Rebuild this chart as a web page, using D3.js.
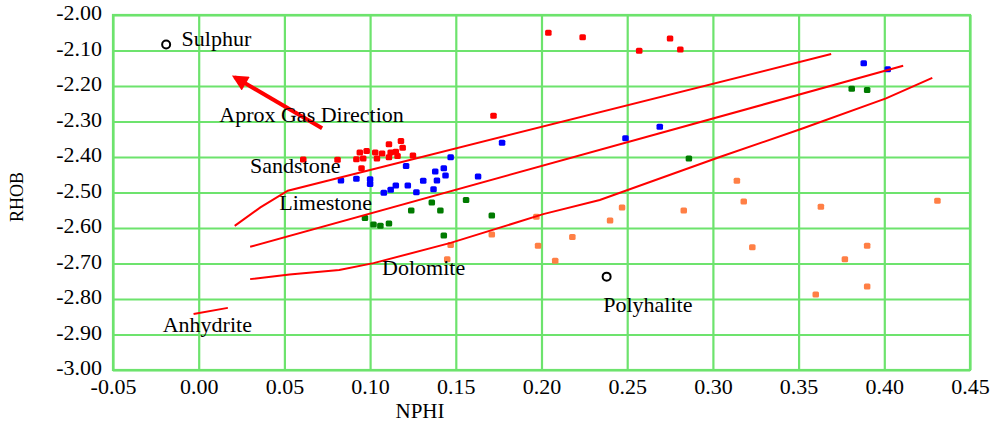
<!DOCTYPE html>
<html>
<head>
<meta charset="utf-8">
<script src="https://cdn.jsdelivr.net/npm/d3@7"></script>
<style>
    body { margin:0; background:#fff; }
    text { font-family:"Liberation Serif","Times New Roman",serif; fill:#000; }
</style>
</head>
<body>
<script>

// tick values for both axes
var xTicks = [-0.05,0.00,0.05,0.10,0.15,0.20,0.25,0.30,0.35,0.40,0.45];
var yTicks = [-2.00,-2.10,-2.20,-2.30,-2.40,-2.50,-2.60,-2.70,-2.80,-2.90,-3.00];

// NPHI, RHOB pairs
var sandstonePts = [
    [0.061,-2.407],[0.081,-2.408],[0.092,-2.406],[0.094,-2.387],[0.098,-2.383],
    [0.096,-2.404],[0.095,-2.432],[0.103,-2.387],[0.104,-2.404],[0.107,-2.390],
    [0.111,-2.364],[0.112,-2.387],[0.111,-2.401],[0.115,-2.385],[0.116,-2.397],
    [0.118,-2.355],[0.119,-2.374],[0.125,-2.396],[0.172,-2.284],[0.204,-2.050],
    [0.224,-2.063],[0.257,-2.101],[0.275,-2.066],[0.281,-2.097]
];
var limestonePts = [
    [0.083,-2.466],[0.092,-2.461],[0.100,-2.463],[0.100,-2.476],[0.121,-2.425],
    [0.108,-2.501],[0.112,-2.492],[0.115,-2.480],[0.122,-2.480],[0.127,-2.499],
    [0.131,-2.467],[0.138,-2.441],[0.139,-2.466],[0.137,-2.491],[0.143,-2.432],
    [0.144,-2.452],[0.147,-2.401],[0.163,-2.455],[0.177,-2.360],[0.249,-2.347],
    [0.269,-2.315],[0.388,-2.136],[0.402,-2.153]
];
var dolomitePts = [
    [0.097,-2.572],[0.102,-2.590],[0.106,-2.594],[0.111,-2.587],[0.124,-2.551],
    [0.136,-2.528],[0.141,-2.551],[0.156,-2.521],[0.171,-2.565],[0.143,-2.621],
    [0.286,-2.404],[0.381,-2.208],[0.390,-2.211]
];
var otherPts = [
    [0.147,-2.648],[0.145,-2.688],[0.171,-2.618],[0.197,-2.568],[0.198,-2.650],
    [0.208,-2.692],[0.218,-2.625],[0.240,-2.579],[0.247,-2.542],[0.283,-2.551],
    [0.314,-2.467],[0.318,-2.525],[0.323,-2.654],[0.363,-2.540],[0.360,-2.787],
    [0.377,-2.688],[0.390,-2.650],[0.390,-2.765],[0.431,-2.523]
];

// cut-off lines
var upperLine = [[0.021,-2.594],[0.036,-2.542],[0.052,-2.495],[0.369,-2.110]];
var middleLine = [[0.030,-2.653],[0.411,-2.143]];
var lowerLine = [[0.030,-2.744],[0.053,-2.731],[0.082,-2.718],[0.102,-2.699],
    [0.147,-2.642],[0.201,-2.561],[0.234,-2.521],[0.304,-2.400],[0.351,-2.322],
    [0.401,-2.235],[0.428,-2.177]];
var anhydriteLine = [[-0.003,-2.842],[0.017,-2.825]];
var gasArrow = [[0.072,-2.319],[0.021,-2.175]];

// mineral points (open circles)
var minerals = [[-0.019,-2.083],[0.238,-2.737]];

// text labels: name, x, y (left / baseline)
var labelNames = ["Sulphur","Aprox Gas Direction","Sandstone","Limestone","Dolomite","Polyhalite","Anhydrite"];
var labelX = [-0.010,0.012,0.030,0.047,0.107,0.236,-0.021];
var labelY = [-2.087,-2.301,-2.444,-2.549,-2.732,-2.837,-2.892];

var drawPlot = function(width,height)
{
    var margins = {top:15, bottom:60, left:113, right:20};
    var graph = {
        width:width-margins.left-margins.right,
        height:height-margins.top-margins.bottom
    };
    var grid = "#6de36d";

    var svg = d3.select("body")
        .append("svg")
            .attr("width",width)
            .attr("height",height);

    var x = d3.scaleLinear()
        .domain([-0.05,0.45])
        .range([margins.left,margins.left+graph.width]);
    var y = d3.scaleLinear()
        .domain([-2,-3])
        .range([margins.top,margins.top+graph.height]);

    var fmt = function(d){ return d.toFixed(2); };

    // axes double as the grid
    var yAxis = svg.append("g")
        .attr("transform","translate("+margins.left+",0)")
        .call(d3.axisLeft(y).tickValues(yTicks).tickFormat(fmt)
            .tickSize(-graph.width).tickPadding(11));
    var xAxis = svg.append("g")
        .attr("transform","translate(0,"+(margins.top+graph.height)+")")
        .call(d3.axisBottom(x).tickValues(xTicks).tickFormat(fmt)
            .tickSize(-graph.height).tickPadding(8));

    [yAxis,xAxis].forEach(function(a){
        a.select(".domain").remove();
        a.selectAll("line").attr("stroke",grid).attr("stroke-width",2.2);
        a.selectAll("text")
            .style("font-family","'Liberation Serif','Times New Roman',serif")
            .style("font-size","22px")
            .attr("fill","#000");
    });
    yAxis.selectAll("text").attr("dy","0.22em");

    svg.append("rect")
        .attr("x",margins.left)
        .attr("y",margins.top)
        .attr("width",graph.width)
        .attr("height",graph.height)
        .attr("fill","none")
        .attr("stroke",grid)
        .attr("stroke-width",2.2);

    // points
    var series = [
        {pts:sandstonePts, color:"#ff0000"},
        {pts:limestonePts, color:"#0000ff"},
        {pts:dolomitePts, color:"#007a00"},
        {pts:otherPts, color:"#ff7f45"}
    ];
    series.forEach(function(s){
        svg.append("g").selectAll("rect")
            .data(s.pts)
            .enter()
            .append("rect")
            .attr("x",function(d){ return x(d[0])-3.25; })
            .attr("y",function(d){ return y(d[1])-3; })
            .attr("width",6.5)
            .attr("height",6)
            .attr("rx",1.5)
            .attr("fill",s.color);
    });

    var line = d3.line()
        .x(function(d){ return x(d[0]); })
        .y(function(d){ return y(d[1]); });

    [upperLine,middleLine,lowerLine,anhydriteLine].forEach(function(l){
        svg.append("path")
            .attr("d",line(l))
            .attr("fill","none")
            .attr("stroke","#ff0000")
            .attr("stroke-width",2);
    });

    svg.append("defs").append("marker")
        .attr("id","head")
        .attr("markerUnits","userSpaceOnUse")
        .attr("viewBox","0 0 10 10")
        .attr("refX",8)
        .attr("refY",5)
        .attr("markerWidth",22)
        .attr("markerHeight",16)
        .attr("orient","auto")
        .append("path")
            .attr("d","M0,0 L10,5 L0,10 Z")
            .attr("fill","#ff0000");

    svg.append("path")
        .attr("d",line(gasArrow))
        .attr("stroke","#ff0000")
        .attr("stroke-width",4)
        .attr("marker-end","url(#head)");

    svg.selectAll(".mineral")
        .data(minerals)
        .enter()
        .append("circle")
        .attr("cx",function(d){ return x(d[0]); })
        .attr("cy",function(d){ return y(d[1]); })
        .attr("r",4)
        .attr("fill","#fff")
        .attr("stroke","#000")
        .attr("stroke-width",2);

    svg.selectAll(".label")
        .data(labelNames)
        .enter()
        .append("text")
        .attr("x",function(d,i){ return x(labelX[i]); })
        .attr("y",function(d,i){ return y(labelY[i]); })
        .style("font-size","22px")
        .text(function(d){ return d; });

    svg.append("text")
        .attr("x",420)
        .attr("y",418)
        .attr("text-anchor","middle")
        .style("font-size","21px")
        .text("NPHI");

    svg.append("text")
        .attr("transform","translate(23,197) rotate(-90)")
        .attr("text-anchor","middle")
        .style("font-size","18px")
        .text("RHOB");
}

drawPlot(990,430);

</script>
</body>
</html>
